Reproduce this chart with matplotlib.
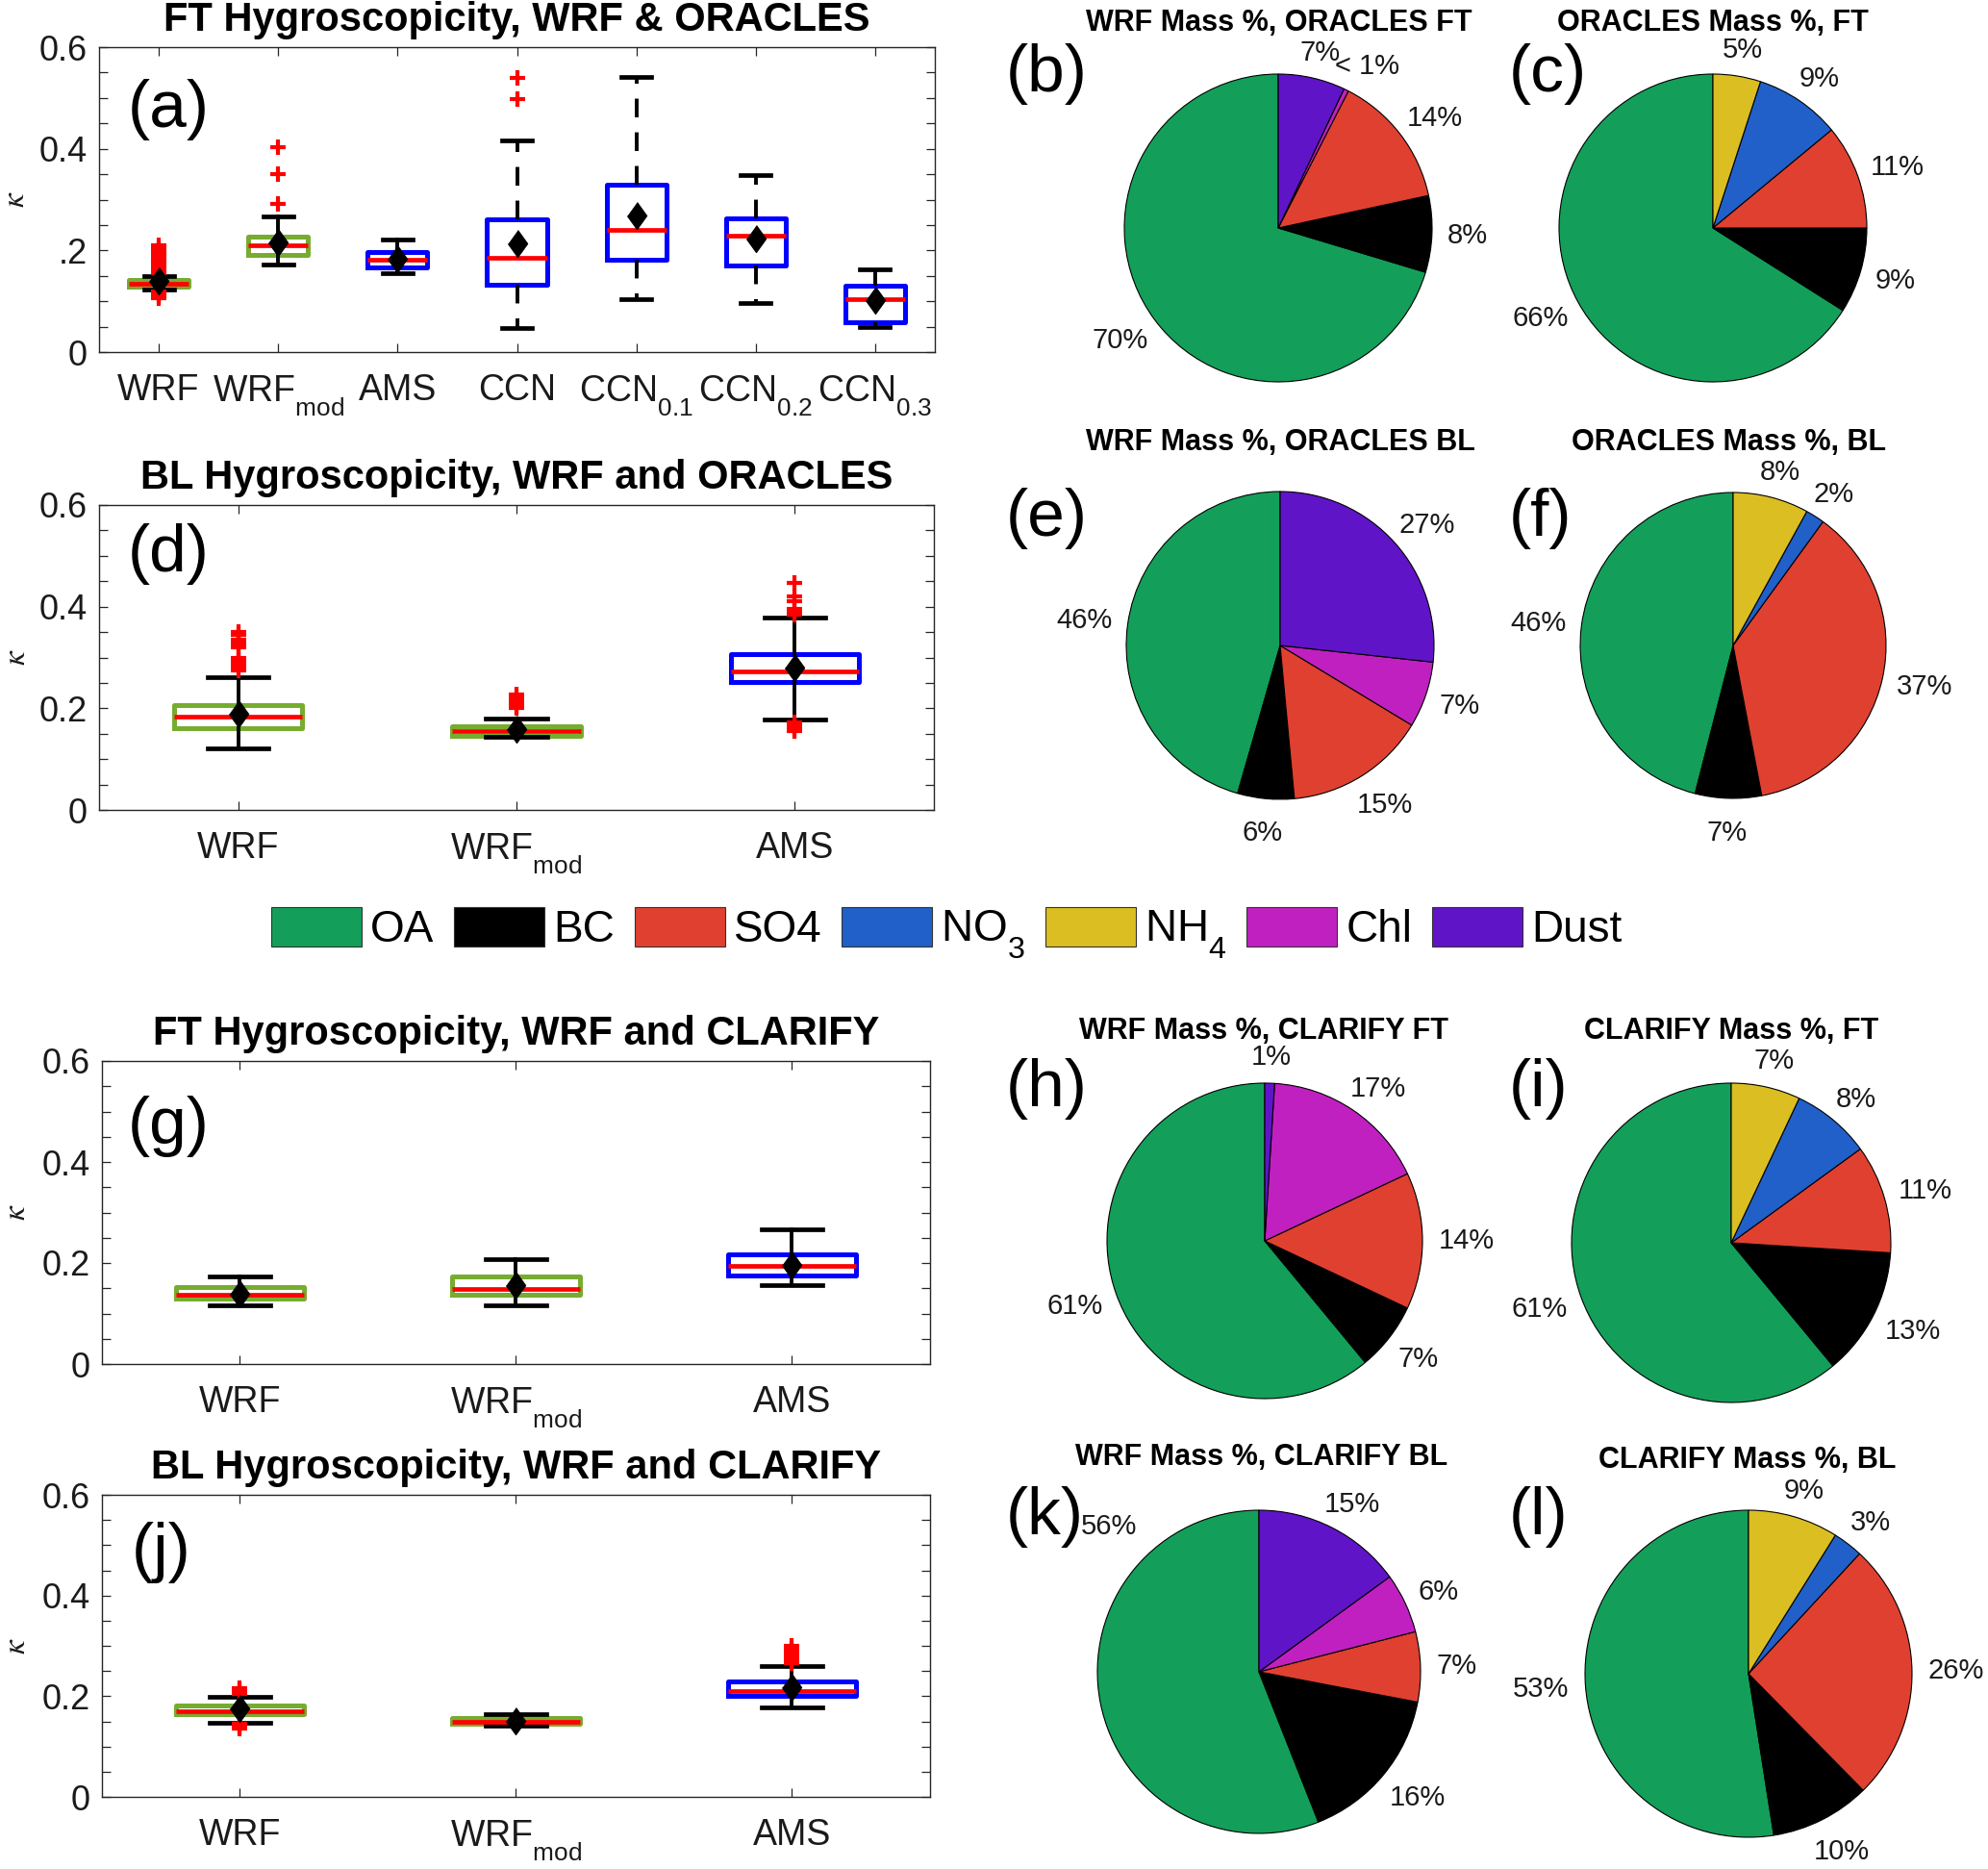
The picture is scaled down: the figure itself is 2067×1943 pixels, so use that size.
import matplotlib
matplotlib.use('Agg')
import matplotlib.pyplot as plt
from matplotlib.patches import Patch
import numpy as np

W, H = 2067, 1943
plt.rcParams['font.family'] = ['Liberation Sans', 'DejaVu Sans']
plt.rcParams['mathtext.fontset'] = 'custom'
plt.rcParams['mathtext.rm'] = 'Liberation Sans'
plt.rcParams['mathtext.it'] = 'Liberation Sans:italic'
plt.rcParams['mathtext.bf'] = 'Liberation Sans:bold'

# deeper subscripts (MATLAB-like)
try:
    from matplotlib import _mathtext as _mt

    class _LibConst(_mt.FontConstantsBase):
        sub1 = 0.75
        sub2 = 0.9
        subdrop = 0.4

    _mt._font_constant_mapping['Liberation Sans'] = _LibConst
except Exception:
    pass

# ---------------- data ----------------
species = ['OA', 'BC', 'SO4', 'NO$_3$', 'NH$_4$', 'Chl', 'Dust']
species_colors = ['#139f59', '#000000', '#e04030', '#2060c8', '#dabe22', '#c020c0', '#6014c8']

# panel (a)
a_labels = ['WRF', 'WRF$_{\\mathrm{mod}}$', 'AMS', 'CCN', 'CCN$_{0.1}$', 'CCN$_{0.2}$', 'CCN$_{0.3}$']
a_q1 = [0.128, 0.191, 0.166, 0.132, 0.181, 0.170, 0.058]
a_med = [0.135, 0.210, 0.181, 0.186, 0.241, 0.229, 0.104]
a_q3 = [0.142, 0.227, 0.197, 0.261, 0.329, 0.263, 0.131]
a_lo = [0.123, 0.173, 0.155, 0.047, 0.104, 0.097, 0.050]
a_hi = [0.149, 0.267, 0.221, 0.417, 0.541, 0.348, 0.162]
a_mean = [0.140, 0.215, 0.183, 0.213, 0.269, 0.224, 0.102]
a_fliers = [[0.21, 0.205, 0.2, 0.195, 0.19, 0.185, 0.18, 0.175, 0.17, 0.165, 0.16, 0.155,
             0.12, 0.115, 0.11, 0.106],
            [0.403, 0.351, 0.292], [], [0.540, 0.498], [], [], []]
a_colors = ['#77AC30', '#77AC30', '#0000ff', '#0000ff', '#0000ff', '#0000ff', '#0000ff']
a_dashed = [False, False, False, True, True, True, True]

three_labels = ['WRF', 'WRF$_{\\mathrm{mod}}$', 'AMS']
three_colors = ['#77AC30', '#77AC30', '#0000ff']

# panel (d)
d_q1 = [0.161, 0.146, 0.251]
d_med = [0.183, 0.156, 0.272]
d_q3 = [0.206, 0.164, 0.307]
d_lo = [0.122, 0.143, 0.177]
d_hi = [0.262, 0.179, 0.379]
d_mean = [0.189, 0.159, 0.280]
d_fliers = [[0.35, 0.345, 0.335, 0.33, 0.325, 0.32, 0.30, 0.295, 0.29, 0.285, 0.28, 0.275],
            [0.228, 0.222, 0.215, 0.21, 0.205, 0.2],
            [0.447, 0.42, 0.41, 0.395, 0.39, 0.385, 0.172, 0.165, 0.16, 0.155]]

# panel (g)
g_q1 = [0.129, 0.138, 0.175]
g_med = [0.137, 0.148, 0.195]
g_q3 = [0.152, 0.173, 0.217]
g_lo = [0.116, 0.116, 0.156]
g_hi = [0.173, 0.208, 0.267]
g_mean = [0.140, 0.156, 0.197]
g_fliers = [[], [], []]

# panel (j)
j_q1 = [0.164, 0.145, 0.201]
j_med = [0.171, 0.150, 0.211]
j_q3 = [0.182, 0.157, 0.229]
j_lo = [0.147, 0.141, 0.177]
j_hi = [0.199, 0.164, 0.260]
j_mean = [0.175, 0.151, 0.218]
j_fliers = [[0.215, 0.21, 0.205, 0.145, 0.14, 0.135], [],
            [0.30, 0.295, 0.29, 0.285, 0.28, 0.275, 0.27, 0.265]]

# pies: order OA, BC, SO4, NO3, NH4, Chl, Dust
b_vals = [70, 8, 14, 0, 0, 0.5, 7]
b_labs = ['70%', '8%', '14%', '', '', '< 1%', '7%']
c_vals = [66, 9, 11, 9, 5, 0, 0]
c_labs = ['66%', '9%', '11%', '9%', '5%', '', '']
e_vals = [46, 6, 15, 0, 0, 7, 27]
e_labs = ['46%', '6%', '15%', '', '', '7%', '27%']
f_vals = [46, 7, 37, 2, 8, 0, 0]
f_labs = ['46%', '7%', '37%', '2%', '8%', '', '']
h_vals = [61, 7, 14, 0, 0, 17, 1]
h_labs = ['61%', '7%', '14%', '', '', '17%', '1%']
i_vals = [61, 13, 11, 8, 7, 0, 0]
i_labs = ['61%', '13%', '11%', '8%', '7%', '', '']
k_vals = [56, 16, 7, 0, 0, 6, 15]
k_labs = ['56%', '16%', '7%', '', '', '6%', '15%']
l_vals = [53, 10, 26, 3, 9, 0, 0]
l_labs = ['53%', '10%', '26%', '3%', '9%', '', '']

# ---------------- figure ----------------
fig = plt.figure(figsize=(W / 100, H / 100), dpi=100)
AX_COL = '#262626'
TXT_COL = '#1a1a1a'


def rect(l, r, t, b):
    return [l / W, 1 - b / H, (r - l) / W, (b - t) / H]


diamond = [(0, 1), (0.72, 0), (0, -1), (-0.72, 0)]


def box_panel(pos, title, labels, q1, med, q3, lo, hi, mean, fliers, colors,
              dashed, width, capw, ytlabels, letter, letter_xy):
    ax = fig.add_axes(rect(*pos))
    stats = []
    for k in range(len(labels)):
        stats.append(dict(q1=q1[k], med=med[k], q3=q3[k], whislo=lo[k], whishi=hi[k],
                          mean=mean[k], fliers=np.array(fliers[k]), label=labels[k]))
    n = len(labels)
    bp = ax.bxp(stats, positions=np.arange(1, n + 1), widths=width, capwidths=capw,
                showmeans=True, patch_artist=False,
                boxprops=dict(linewidth=3.6),
                medianprops=dict(color='#ff0000', linewidth=3.4),
                whiskerprops=dict(color='k', linewidth=2.8),
                capprops=dict(color='k', linewidth=3.4),
                flierprops=dict(marker='+', markeredgecolor='#ff0000', markersize=11,
                                markeredgewidth=3, linestyle='none'),
                meanprops=dict(marker=diamond, markerfacecolor='k', markeredgecolor='k',
                               markersize=20, linestyle='none'))
    for k in range(n):
        bp['boxes'][k].set_color(colors[k])
        bp['means'][k].set_zorder(5)
        if dashed[k]:
            for w in bp['whiskers'][2 * k:2 * k + 2]:
                w.set_linestyle((0, (5, 4)))
    ax.set_xlim(0.5, n + 0.5)
    ax.set_ylim(0, 0.6)
    ax.set_xticks(np.arange(1, n + 1))
    ax.set_xticklabels(labels)
    ax.set_yticks([0, 0.2, 0.4, 0.6])
    ax.set_yticklabels(ytlabels)
    ax.set_yticks(np.arange(0, 0.601, 0.05), minor=True)
    ax.tick_params(which='both', direction='in', top=True, right=True, length=6.5,
                   width=0.9, color=AX_COL)
    ax.tick_params(axis='x', which='major', labelsize=27, pad=16, labelcolor=TXT_COL)
    ax.tick_params(axis='y', which='major', labelsize=26, pad=9, labelcolor=TXT_COL)
    for s in ax.spines.values():
        s.set_color(AX_COL)
        s.set_linewidth(1.0)
    ax.set_title(title, fontsize=30, fontweight='bold', pad=12)
    ax.set_ylabel(r'$\kappa$', math_fontfamily='stix', fontsize=24, color=TXT_COL)
    ax.yaxis.label.set_va('top')
    ax.yaxis.set_label_coords((1.5 - pos[0]) / (pos[1] - pos[0]), 0.5)
    fig.text(letter_xy[0] / W, 1 - letter_xy[1] / H, letter, fontsize=50,
             ha='left', va='center')
    return ax


box_panel((103, 972, 49, 366), 'FT Hygroscopicity, WRF & ORACLES', a_labels,
          a_q1, a_med, a_q3, a_lo, a_hi, a_mean, a_fliers, a_colors, a_dashed,
          0.5, 0.25, ['0', '.2', '0.4', '0.6'], '(a)', (133, 114))
box_panel((103, 971, 525, 842), 'BL Hygroscopicity, WRF and ORACLES', three_labels,
          d_q1, d_med, d_q3, d_lo, d_hi, d_mean, d_fliers, three_colors, [False] * 3,
          0.46, 0.22, ['0', '0.2', '0.4', '0.6'], '(d)', (133, 576))
box_panel((106, 967, 1103, 1418), 'FT Hygroscopicity, WRF and CLARIFY', three_labels,
          g_q1, g_med, g_q3, g_lo, g_hi, g_mean, g_fliers, three_colors, [False] * 3,
          0.46, 0.22, ['0', '0.2', '0.4', '0.6'], '(g)', (133, 1171))
box_panel((106, 967, 1554, 1868), 'BL Hygroscopicity, WRF and CLARIFY', three_labels,
          j_q1, j_med, j_q3, j_lo, j_hi, j_mean, j_fliers, three_colors, [False] * 3,
          0.46, 0.22, ['0', '0.2', '0.4', '0.6'], '(j)', (137, 1614))

pie_texts = []  # (text, radius_px, mid_angle_deg, moved)


def pie_panel(cx, cy, r, vals, labs, title, title_xy, letter, letter_xy, moved=None):
    ax = fig.add_axes(rect(cx - r, cx + r, cy - r, cy + r))
    v = [x for x in vals if x > 0]
    lb = [labs[k] for k in range(len(vals)) if vals[k] > 0]
    cl = [species_colors[k] for k in range(len(vals)) if vals[k] > 0]
    wedges, texts = ax.pie(v, colors=cl, labels=lb, startangle=90, counterclock=True,
                           labeldistance=1.2, radius=1.0,
                           wedgeprops=dict(edgecolor='k', linewidth=0.8),
                           textprops=dict(fontsize=21, color=TXT_COL))
    for idx, (t, wdg) in enumerate(zip(texts, wedges)):
        t.set_ha('center')
        t.set_va('center')
        mid = 0.5 * (wdg.theta1 + wdg.theta2)
        mv = None
        if moved is not None and moved[0] == idx:
            mv = moved[1:]
        pie_texts.append((t, r, mid, mv))
    ax.set_xlim(-1.0, 1.0)
    ax.set_ylim(-1.0, 1.0)
    ax.set_aspect('equal')
    ax.axis('off')
    fig.text(title_xy[0] / W, 1 - title_xy[1] / H, title, fontsize=22, fontweight='bold',
             ha='center', va='baseline')
    fig.text(letter_xy[0] / W, 1 - letter_xy[1] / H, letter, fontsize=50,
             ha='left', va='center')


pie_panel(1329, 237, 160, b_vals, b_labs, 'WRF Mass %, ORACLES FT', (1330, 32), '(b)', (1046, 77))
pie_panel(1781, 237, 160, c_vals, c_labs, 'ORACLES Mass %, FT', (1781, 32), '(c)', (1569, 77))
pie_panel(1331, 671, 160, e_vals, e_labs, 'WRF Mass %, ORACLES BL', (1331, 468), '(e)', (1046, 539))
pie_panel(1802, 671, 159, f_vals, f_labs, 'ORACLES Mass %, BL', (1798, 468), '(f)', (1569, 539))
pie_panel(1315, 1290, 164, h_vals, h_labs, 'WRF Mass %, CLARIFY FT', (1314, 1080), '(h)', (1046, 1132))
pie_panel(1800, 1292, 166, i_vals, i_labs, 'CLARIFY Mass %, FT', (1800, 1080), '(i)', (1569, 1132))
pie_panel(1309, 1738, 168, k_vals, k_labs, 'WRF Mass %, CLARIFY BL', (1312, 1523), '(k)', (1046, 1577),
          moved=(0, 136, 1.29))
pie_panel(1818, 1740, 170, l_vals, l_labs, 'CLARIFY Mass %, BL', (1817, 1526), '(l)', (1569, 1577))

# legend
handles = [Patch(facecolor=c, edgecolor='#333333', linewidth=0.8) for c in species_colors]
fig.legend(handles, species, loc='center', bbox_to_anchor=(984 / W, 1 - 971 / H), ncol=7,
           frameon=False, fontsize=33, handlelength=2.05, handleheight=1.0,
           handletextpad=0.2, columnspacing=0.45, borderpad=0, borderaxespad=0)

# place pie labels outside the rim, pushed outward by half their extent (MATLAB-like)
fig.canvas.draw()
renderer = fig.canvas.get_renderer()
for t, r, mid, mv in pie_texts:
    if mv is not None:
        ang, rad = mv
        t.set_position((rad * np.cos(np.deg2rad(ang)), rad * np.sin(np.deg2rad(ang))))
        continue
    bb = t.get_window_extent(renderer)
    w = bb.width
    h = 22.0
    c, s = np.cos(np.deg2rad(mid)), np.sin(np.deg2rad(mid))
    px = 1.10 * r * c + 0.5 * w * c
    py = 1.10 * r * s + 0.5 * h * s - 9.0 * max(0.0, -s)
    t.set_position((px / r, py / r))

fig.savefig('out.png', dpi=100, facecolor='white')
